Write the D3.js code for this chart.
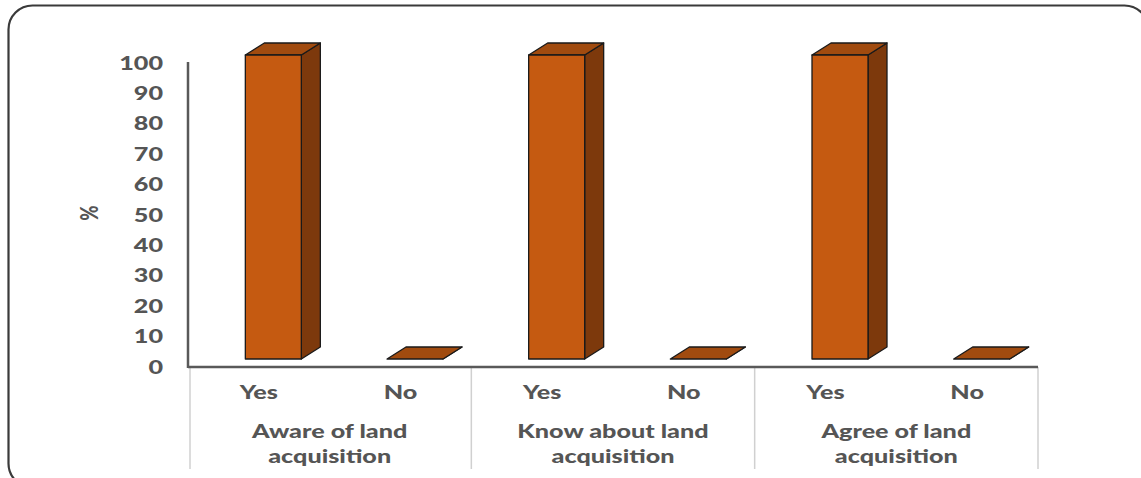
<!DOCTYPE html>
<html>
<head>
<meta charset="utf-8">
<script src="https://cdn.jsdelivr.net/npm/d3@7"></script>
<style>
  html, body { margin: 0; padding: 0; background: #fff; }
  svg { display: block; }
  text { font-family: Lato, "Open Sans", sans-serif; font-weight: 900; fill: #555555; }
</style>
</head>
<body>
<svg id="chart" width="1141" height="478"></svg>
<script>
// ---- data ----
const groups = ["Aware of land|acquisition", "Know about land|acquisition", "Agree of land|acquisition"];
const answers = ["Yes", "No"];
const yesValues = [100, 100, 100];
const noValues = [0, 0, 0];
const yTicks = [0, 10, 20, 30, 40, 50, 60, 70, 80, 90, 100];
const yLabel = "%";

(function () {
// ---- layout ----
const plotL = 188, plotR = 1038, plotT = 63, plotB = 367;
const sx = 1.36;          // horizontal stretch of the picture's text
const fontSize = 18.5;
const depthX = 19, depthY = -12, floorLift = 8, barW = 56, barShift = 14.5;
const colFront = "#C55A11", colSide = "#7D390C", colTop = "#A14B0F";

const svg = d3.select("#chart");

// outer rounded frame
svg.append("rect")
  .attr("x", 8.5).attr("y", 5.5).attr("width", 1140).attr("height", 482)
  .attr("rx", 24).attr("ry", 24)
  .attr("fill", "none").attr("stroke", "#3a3a3a").attr("stroke-width", 2.2);

const rows = [];
groups.forEach((g, gi) => {
  answers.forEach((a, ai) => {
    rows.push({ key: g + "::" + a, group: g, answer: a, value: ai === 0 ? yesValues[gi] : noValues[gi] });
  });
});

const x = d3.scaleBand().domain(rows.map(r => r.key)).range([plotL, plotR]).padding(0);
const xg = d3.scaleBand().domain(groups).range([plotL, plotR]).padding(0);
const y = d3.scaleLinear().domain([0, 100]).range([plotB, plotT]);

function stretchedText(sel, px, py, anchor) {
  return sel.append("text")
    .attr("transform", `translate(${px},${py}) scale(${sx},1)`)
    .attr("text-anchor", anchor)
    .attr("font-size", fontSize);
}

// y tick labels
yTicks.forEach(t => {
  stretchedText(svg, 163, y(t), "end").attr("dy", "0.36em").text(t);
});

// y label
svg.append("text")
  .attr("transform", `translate(98,${(plotT + plotB) / 2 - 2}) rotate(-90) scale(1,${sx})`)
  .attr("text-anchor", "middle").attr("font-size", fontSize)
  .text(yLabel);

// category separators (light grey)
const seps = [plotL].concat(groups.map(g => xg(g) + xg.bandwidth()));
svg.selectAll("line.sep").data(seps).enter().append("line")
  .attr("class", "sep")
  .attr("x1", d => d + (d === plotL ? 2 : 0)).attr("x2", d => d + (d === plotL ? 2 : 0))
  .attr("y1", plotB).attr("y2", 469)
  .attr("stroke", "#d0d0d0").attr("stroke-width", 1.5);

// bars (pseudo-3D)
const bars = svg.append("g");
rows.forEach(r => {
  const x0 = x(r.key) + x.bandwidth() / 2 - barW / 2 + barShift;
  const x1 = x0 + barW;
  const yb = y(0) - floorLift;
  const yt = y(r.value) - floorLift;
  const g = bars.append("g").attr("stroke", "#1a1a1a").attr("stroke-width", 1.3).attr("stroke-linejoin", "round");
  g.append("path").attr("fill", colSide)
    .attr("d", `M${x1},${yb} L${x1 + depthX},${yb + depthY} L${x1 + depthX},${yt + depthY} L${x1},${yt} Z`);
  g.append("path").attr("fill", colTop)
    .attr("d", `M${x0},${yt} L${x0 + depthX},${yt + depthY} L${x1 + depthX},${yt + depthY} L${x1},${yt} Z`);
  if (yb - yt > 0.5) {
    g.append("rect").attr("fill", colFront)
      .attr("x", x0).attr("y", yt).attr("width", barW).attr("height", yb - yt);
  }
});

// axes lines
svg.append("line").attr("x1", plotL).attr("x2", plotL).attr("y1", y(100) - 1).attr("y2", plotB + 1)
  .attr("stroke", "#595959").attr("stroke-width", 2.5);
svg.append("line").attr("x1", plotL).attr("x2", plotR).attr("y1", plotB).attr("y2", plotB)
  .attr("stroke", "#595959").attr("stroke-width", 2.5);

// answer labels
rows.forEach(r => {
  stretchedText(svg, x(r.key) + x.bandwidth() / 2, 392, "middle").attr("dy", "0.36em").text(r.answer);
});

// group labels (two lines)
groups.forEach(g => {
  const parts = g.split("|");
  parts.forEach((p, i) => {
    stretchedText(svg, xg(g) + xg.bandwidth() / 2, 431 + i * 25, "middle").attr("dy", "0.36em").text(p);
  });
});
})();
</script>
</body>
</html>
